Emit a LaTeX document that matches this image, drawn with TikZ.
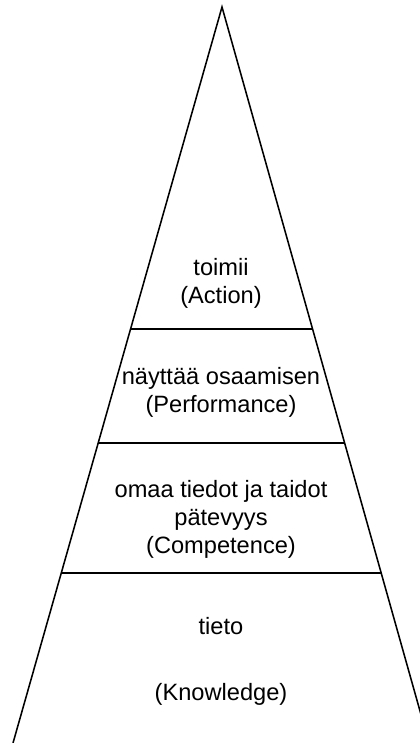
\documentclass[tikz,border=0pt]{standalone}
\usepackage{fontspec}
\setmainfont{Liberation Sans}
\usepackage{tikz}
\usetikzlibrary{calc}
\tikzset{
  side/.style={line width=1.1pt},
  tierline/.style={line width=.8pt},
  tiertext/.style={align=center,inner sep=0pt,font=\fontsize{16.8}{19.9}\selectfont},
}

\begin{document}
\begin{tikzpicture}[x=.025cm,y=-.025cm]
			\useasboundingbox (0,0) rectangle (420,743);
			\clip (0,0) rectangle (420,743);
			\coordinate (top) at (222,7);
			\coordinate (bl) at (13,743);
			\coordinate (br) at (429,743);
			\draw[side] (bl)--(top)--(br);
			\draw[tierline] ($(top)!.4375!(bl)$)--($(top)!.4375!(br)$);
			\draw[tierline] ($(top)!.5924!(bl)$)--($(top)!.5924!(br)$);
			\draw[tierline] ($(top)!.769!(bl)$)--($(top)!.769!(br)$);
			\node[tiertext] (act) at (221,283) {toimii\\(Action)};
			\node[tiertext] (perf) at (221,392.5) {näyttää osaamisen\\(Performance)};
			\node[tiertext] (comp) at (221,519) {omaa tiedot ja taidot\\pätevyys\\(Competence)};
			\node[tiertext] (know) at (221,661) {tieto\\[27pt](Knowledge)};
		\end{tikzpicture}
\end{document}
